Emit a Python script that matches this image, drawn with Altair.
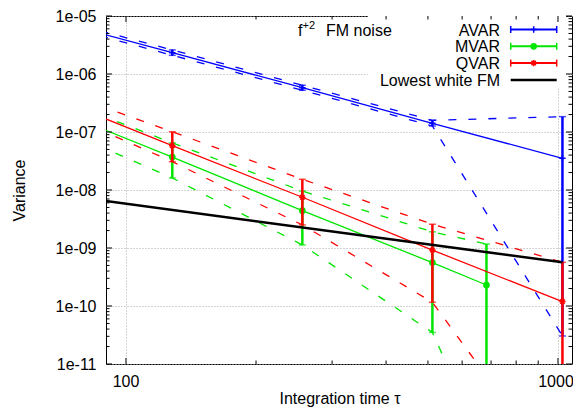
import altair as alt
import pandas as pd

# ---------------- data ----------------
tau_av = [64, 128, 256, 512, 1024]
av_c = [9.3e-6, 2.33e-6, 5.8e-7, 1.41e-7, 3.52e-8]
av_u = [1.02e-5, 2.6e-6, 6.4e-7, 1.59e-7, 1.84e-7]
av_l = [8.5e-6, 2.1e-6, 5.25e-7, 1.27e-7, 3.04e-11]

tau_mv = [64, 128, 256, 512, 683]
mv_c = [2.96e-7, 3.7e-8, 4.4e-9, 5.6e-10, 2.3e-10]
mv_u = [4.74e-7, 6.5e-8, 9.6e-9, 1.9e-9, 1.17e-9]
mv_l = [1.55e-7, 1.61e-8, 1.13e-9, 3.5e-11, 3e-13]

tau_qv = [64, 128, 256, 512, 1024]
qv_c = [4.64e-7, 5.8e-8, 7.5e-9, 9.2e-10, 1.19e-10]
qv_u = [6.44e-7, 1.01e-7, 1.53e-8, 2.57e-9, 5.66e-10]
qv_l = [3.0e-7, 3.08e-8, 2.5e-9, 1.16e-10, 1e-13]

tau_wf = [64, 1024]
wf_v = [9.06e-9, 5.66e-10]

series_names = ["AVAR", "MVAR", "QVAR", "Lowest white FM"]
series_colors = ["#0000ff", "#00e600", "#ff0000", "#000000"]

x_major = [100, 1000]
x_labels = ["100", "1000"]
x_label_dx = [0, -2]
x_minor = [200, 300, 400, 500, 600, 700, 800, 900]
y_major = [1e-11, 1e-10, 1e-09, 1e-08, 1e-07, 1e-06, 1e-05]
y_minor = [k * d for d in [1e-11, 1e-10, 1e-09, 1e-08, 1e-07, 1e-06] for k in range(2, 10)]

# ---------------- tables ----------------
rows = []
err = []
for name, taus, c, u, l in [("AVAR", tau_av, av_c, av_u, av_l),
                            ("MVAR", tau_mv, mv_c, mv_u, mv_l),
                            ("QVAR", tau_qv, qv_c, qv_u, qv_l)]:
    for i, t in enumerate(taus):
        rows.append({"series": name, "kind": "c", "key": name + "c", "tau": t, "v": c[i]})
        rows.append({"series": name, "kind": "u", "key": name + "u", "tau": t, "v": u[i]})
        rows.append({"series": name, "kind": "l", "key": name + "l", "tau": t, "v": l[i]})
        if i > 0:
            err.append({"series": name, "tau": t, "v": c[i], "lo": l[i], "hi": u[i]})
for i, t in enumerate(tau_wf):
    rows.append({"series": "Lowest white FM", "kind": "c", "key": "wf", "tau": t, "v": wf_v[i]})
lines = pd.DataFrame(rows)
errs = pd.DataFrame(err)
xlab = pd.DataFrame({"t": x_major, "label": x_labels, "dx": x_label_dx})

W, H = 466, 348
FONT = "Liberation Sans"

xs = alt.Scale(type="log", domain=[89.9, 1077.5], nice=False)
ys = alt.Scale(type="log", domain=[1e-11, 1e-5], nice=False)

grid_common = dict(grid=True, ticks=False, domain=False, gridColor="#a8a8a8",
                   gridDash=[1, 2], gridWidth=1, labelFont=FONT, titleFont=FONT,
                   labelFontSize=16, titleFontSize=16, titleFontWeight="normal",
                   labelColor="black", titleColor="black")
xaxis = alt.Axis(values=x_major, title=None, labels=False, **grid_common)
yaxis = alt.Axis(values=y_major, title="Variance",
                 labelExpr="'1e-' + (datum.value < 5e-10 ? '' : '0') + round(-log(datum.value)/LN10)",
                 labelPadding=10, titlePadding=28, **grid_common)


def X(f):
    return alt.X(f, type="quantitative", scale=xs, axis=xaxis)


def Y(f):
    return alt.Y(f, type="quantitative", scale=ys, axis=yaxis)


PLUS = "M-1,0L1,0M0,-1L0,1"
STAR = "M-1,0L1,0M0,-1L0,1M-0.7,-0.7L0.7,0.7M-0.7,0.7L0.7,-0.7"

layers = []
one = alt.Chart(pd.DataFrame({"a": [0]}))

# legend opaque box (hides grid)
layers.append(one.mark_rect(fill="white").encode(
    x=alt.value(262), x2=alt.value(460), y=alt.value(0), y2=alt.value(72)))

for name in ["AVAR", "MVAR", "QVAR"]:
    col = series_colors[series_names.index(name)]
    d = lines[lines.series == name]
    e = errs[errs.series == name]
    layers.append(alt.Chart(d[d.kind != "c"]).mark_line(clip=True, strokeDash=[8, 12], strokeWidth=1.3, color=col).encode(
        x=X("tau"), y=Y("v"), detail="key:N"))
    layers.append(alt.Chart(d[d.kind == "c"]).mark_line(clip=True, strokeWidth=1.3, color=col).encode(
        x=X("tau"), y=Y("v")))
    layers.append(alt.Chart(e).mark_rule(clip=True, strokeWidth=2.5, color=col).encode(
        x=X("tau"), y=Y("lo"), y2="hi"))
    for f in ["lo", "hi"]:
        layers.append(alt.Chart(e).mark_tick(clip=True, orient="horizontal", size=7, thickness=1.5, color=col).encode(
            x=X("tau"), y=Y(f)))
    if name == "MVAR":
        layers.append(alt.Chart(e).mark_point(clip=True, shape="circle", filled=True, size=45, color=col, opacity=1).encode(
            x=X("tau"), y=Y("v")))
    else:
        layers.append(alt.Chart(e).mark_point(clip=True, shape=PLUS if name == "AVAR" else STAR, filled=False, size=40,
                                              strokeWidth=1.5, color=col, opacity=1).encode(x=X("tau"), y=Y("v")))

wf = lines[lines.series == "Lowest white FM"]
layers.append(alt.Chart(wf).mark_line(clip=True, strokeWidth=2.5, color="black").encode(x=X("tau"), y=Y("v")))

# inward ticks on all four sides
tk = alt.Chart(pd.DataFrame({"v": y_minor}))
for x0, x1 in [(0, 3.5), (W - 3.5, W)]:
    layers.append(tk.mark_rule(color="black", strokeWidth=1).encode(y=Y("v"), x=alt.value(x0), x2=alt.value(x1)))
tk = alt.Chart(pd.DataFrame({"v": y_major}))
for x0, x1 in [(0, 6), (W - 6, W)]:
    layers.append(tk.mark_rule(color="black", strokeWidth=1).encode(y=Y("v"), x=alt.value(x0), x2=alt.value(x1)))
tk = alt.Chart(pd.DataFrame({"t": x_minor}))
for y0, y1 in [(0, 3.5), (H - 3.5, H)]:
    layers.append(tk.mark_rule(color="black", strokeWidth=1).encode(x=X("t"), y=alt.value(y0), y2=alt.value(y1)))
tk = alt.Chart(pd.DataFrame({"t": x_major}))
for y0, y1 in [(0, 6), (H - 6, H)]:
    layers.append(tk.mark_rule(color="black", strokeWidth=1).encode(x=X("t"), y=alt.value(y0), y2=alt.value(y1)))

# x tick labels and x title
for i in range(len(x_major)):
    layers.append(alt.Chart(xlab.iloc[[i]]).mark_text(font=FONT, fontSize=16, baseline="middle", align="center",
                                                      color="black", dx=x_label_dx[i]).encode(
        x=X("t"), y=alt.value(H + 18), text="label:N"))
layers.append(one.mark_text(text="Integration time τ", font=FONT, fontSize=16, align="center",
                            baseline="alphabetic", color="black").encode(x=alt.value(234), y=alt.value(H + 40)))

# annotation text f^{+2} FM noise
layers.append(one.mark_text(text="f", font=FONT, fontSize=16, align="left", baseline="middle", color="black").encode(
    x=alt.value(192), y=alt.value(15)))
layers.append(one.mark_text(text="+2", font=FONT, fontSize=11, align="left", baseline="middle", color="black").encode(
    x=alt.value(196.5), y=alt.value(9.5)))
layers.append(one.mark_text(text="FM noise", font=FONT, fontSize=16, align="left", baseline="middle", color="black").encode(
    x=alt.value(220), y=alt.value(15)))

# legend (gnuplot style: text right, sample left)
lx0, lx1, ltx = 404.7, 450.7, 394
for i, name in enumerate(series_names):
    yy = 13.5 + 16.8 * i
    col = series_colors[i]
    layers.append(one.mark_text(text=name, font=FONT, fontSize=16, align="right", baseline="middle", color="black").encode(
        x=alt.value(ltx), y=alt.value(yy + 1)))
    sw = 2.5 if i == 3 else 2
    layers.append(one.mark_rule(color=col, strokeWidth=sw).encode(x=alt.value(lx0), x2=alt.value(lx1), y=alt.value(yy)))
    if i < 3:
        for xx in [lx0, lx1]:
            layers.append(one.mark_rule(color=col, strokeWidth=1.5).encode(
                x=alt.value(xx), y=alt.value(yy - 3.5), y2=alt.value(yy + 3.5)))
        mx = (lx0 + lx1) / 2
        if i == 1:
            layers.append(one.mark_point(shape="circle", filled=True, size=45, color=col, opacity=1).encode(
                x=alt.value(mx), y=alt.value(yy)))
        else:
            layers.append(one.mark_point(shape=PLUS if i == 0 else STAR, filled=False, size=40, strokeWidth=1.5,
                                         color=col, opacity=1).encode(x=alt.value(mx), y=alt.value(yy)))

chart = alt.layer(*layers).properties(
    width=W, height=H,
    autosize=alt.AutoSizeParams(type="none"),
    padding={"left": 98, "top": 8, "right": 1, "bottom": 44},
    background="white",
).configure_view(stroke="black", strokeWidth=1)

chart.save("out.html", embed_options={"renderer": "svg", "actions": False})
